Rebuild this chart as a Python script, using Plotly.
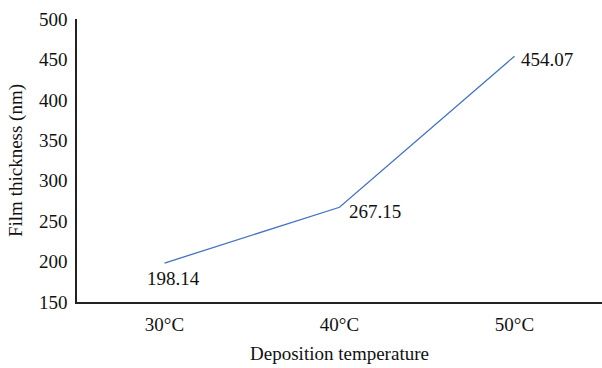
import plotly.graph_objects as go

temperatures = ["30°C", "40°C", "50°C"]
thickness = [198.14, 267.15, 454.07]
y_ticks = [150, 200, 250, 300, 350, 400, 450, 500]

font_family = "Liberation Serif"

fig = go.Figure()
fig.add_trace(go.Scatter(
    x=temperatures, y=thickness, mode="lines",
    line=dict(color="#4472C4", width=1.3),
    hoverinfo="skip", showlegend=False,
))

# value labels beside each point
label_offsets = [
    dict(xanchor="center", yanchor="top", xshift=9, yshift=-3),
    dict(xanchor="left", yanchor="middle", xshift=7, yshift=-4),
    dict(xanchor="left", yanchor="middle", xshift=4, yshift=-3),
]
for t, v, off in zip(temperatures, thickness, label_offsets):
    fig.add_annotation(x=t, y=v, text=f"{v:.2f}", showarrow=False,
                       font=dict(family=font_family, size=19, color="#111"), **off)

fig.update_layout(
    width=602, height=368,
    margin=dict(l=77, r=0, t=19, b=66),
    paper_bgcolor="white", plot_bgcolor="white",
    font=dict(family=font_family, size=19, color="#111"),
    xaxis=dict(
        type="category", range=[-0.5, 2.5],
        showline=True, linecolor="#222", linewidth=1.5,
        showgrid=False, ticks="", ticklabelstandoff=4,
        title=dict(text="Deposition temperature", standoff=13,
                   font=dict(family=font_family, size=19)),
    ),
    yaxis=dict(
        range=[150, 500], tickvals=y_ticks,
        showline=True, linecolor="#222", linewidth=1.5,
        showgrid=False, zeroline=False, ticks="", ticklabelstandoff=4,
        title=dict(text="Film thickness (nm)", standoff=11,
                   font=dict(family=font_family, size=19)),
    ),
)

fig.write_html("out.html")
